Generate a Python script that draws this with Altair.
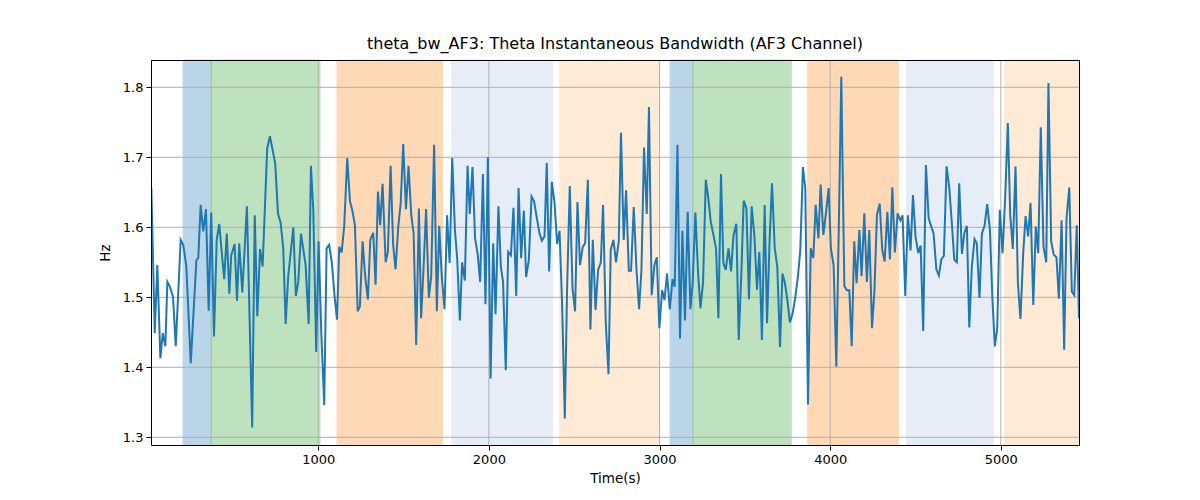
import altair as alt
import pandas as pd

TITLE = "theta_bw_AF3: Theta Instantaneous Bandwidth (AF3 Channel)"

time_s = [22, 42, 57, 75, 89, 104, 116, 131, 149, 165, 194, 209, 227, 253, 286, 297, 311, 326, 342, 358,
          373, 389, 405, 420, 436, 449, 464, 479, 490, 510, 524, 537, 555, 582, 613, 628, 643, 659, 674,
          701, 717, 733, 748, 764, 780, 795, 809, 824, 854, 869, 883, 899, 926, 944, 957, 971, 988, 1002,
          1018, 1035, 1049, 1064, 1080, 1096, 1110, 1123, 1137, 1152, 1170, 1186, 1199, 1215, 1231, 1244,
          1260, 1275, 1291, 1305, 1322, 1336, 1350, 1363, 1377, 1395, 1408, 1424, 1439, 1453, 1469, 1483,
          1498, 1514, 1529, 1545, 1559, 1574, 1590, 1603, 1619, 1632, 1648, 1662, 1679, 1695, 1709, 1724,
          1740, 1755, 1770, 1785, 1801, 1814, 1830, 1843, 1859, 1875, 1888, 1904, 1919, 1934, 1949, 1965,
          1980, 1994, 2010, 2025, 2039, 2056, 2070, 2083, 2099, 2113, 2129, 2144, 2160, 2174, 2189, 2205,
          2218, 2234, 2250, 2265, 2281, 2297, 2310, 2326, 2339, 2353, 2369, 2385, 2400, 2414, 2429, 2445,
          2458, 2474, 2490, 2505, 2519, 2534, 2550, 2564, 2580, 2595, 2609, 2625, 2640, 2656, 2669, 2685,
          2701, 2714, 2730, 2745, 2761, 2774, 2790, 2804, 2820, 2833, 2849, 2865, 2880, 2894, 2909, 2925,
          2938, 2954, 2970, 2984, 2999, 3015, 3029, 3044, 3060, 3076, 3089, 3105, 3120, 3134, 3149, 3165,
          3181, 3194, 3210, 3226, 3240, 3255, 3271, 3286, 3300, 3316, 3331, 3345, 3360, 3374, 3388, 3404,
          3419, 3433, 3450, 3464, 3480, 3493, 3509, 3524, 3540, 3556, 3571, 3585, 3600, 3616, 3630, 3645,
          3659, 3675, 3690, 3706, 3720, 3735, 3749, 3764, 3780, 3796, 3811, 3825, 3840, 3854, 3870, 3886,
          3901, 3915, 3931, 3944, 3960, 3975, 3991, 4004, 4020, 4036, 4051, 4065, 4083, 4098, 4112, 4126,
          4141, 4155, 4171, 4184, 4200, 4215, 4229, 4245, 4259, 4274, 4290, 4305, 4319, 4335, 4350, 4364,
          4379, 4395, 4411, 4424, 4440, 4455, 4471, 4485, 4500, 4516, 4530, 4545, 4561, 4577, 4590, 4606,
          4622, 4637, 4651, 4666, 4682, 4698, 4713, 4727, 4742, 4756, 4772, 4786, 4801, 4815, 4830, 4846,
          4859, 4875, 4889, 4905, 4920, 4936, 4951, 4965, 4979, 4994, 5010, 5026, 5041, 5055, 5070, 5086,
          5100, 5115, 5131, 5145, 5160, 5174, 5190, 5205, 5219, 5234, 5250, 5266, 5279, 5295, 5310, 5326,
          5340, 5356, 5371, 5385, 5401, 5416, 5430, 5445, 5458]

bandwidth_hz = [1.656, 1.449, 1.546, 1.413, 1.449, 1.430, 1.522, 1.515, 1.501, 1.430, 1.582, 1.575, 1.544,
                1.406, 1.553, 1.556, 1.632, 1.594, 1.626, 1.481, 1.621, 1.444, 1.582, 1.605, 1.560, 1.526,
                1.591, 1.505, 1.560, 1.576, 1.495, 1.577, 1.507, 1.630, 1.314, 1.617, 1.473, 1.569, 1.544,
                1.713, 1.730, 1.710, 1.691, 1.620, 1.606, 1.570, 1.462, 1.530, 1.600, 1.502, 1.522, 1.591,
                1.546, 1.462, 1.688, 1.625, 1.422, 1.580, 1.449, 1.346, 1.570, 1.575, 1.549, 1.501, 1.468,
                1.572, 1.564, 1.601, 1.699, 1.637, 1.625, 1.603, 1.480, 1.487, 1.580, 1.530, 1.497, 1.582,
                1.592, 1.518, 1.651, 1.603, 1.662, 1.550, 1.565, 1.688, 1.575, 1.540, 1.601, 1.634, 1.719,
                1.626, 1.688, 1.618, 1.591, 1.432, 1.627, 1.470, 1.552, 1.626, 1.499, 1.530, 1.718, 1.480,
                1.602, 1.530, 1.483, 1.617, 1.549, 1.699, 1.596, 1.556, 1.467, 1.550, 1.524, 1.688, 1.619,
                1.686, 1.584, 1.562, 1.522, 1.676, 1.490, 1.700, 1.384, 1.577, 1.476, 1.630, 1.544, 1.522,
                1.396, 1.565, 1.560, 1.628, 1.502, 1.656, 1.556, 1.624, 1.529, 1.553, 1.644, 1.637, 1.613,
                1.591, 1.581, 1.587, 1.692, 1.537, 1.665, 1.634, 1.576, 1.595, 1.491, 1.327, 1.510, 1.659,
                1.513, 1.480, 1.636, 1.546, 1.572, 1.577, 1.668, 1.454, 1.582, 1.482, 1.539, 1.550, 1.632,
                1.463, 1.390, 1.568, 1.582, 1.550, 1.580, 1.735, 1.582, 1.653, 1.538, 1.538, 1.629, 1.539,
                1.483, 1.539, 1.714, 1.619, 1.772, 1.503, 1.546, 1.557, 1.456, 1.510, 1.496, 1.534, 1.483,
                1.526, 1.515, 1.718, 1.441, 1.595, 1.467, 1.622, 1.483, 1.520, 1.621, 1.534, 1.484, 1.522,
                1.668, 1.641, 1.608, 1.589, 1.570, 1.470, 1.676, 1.549, 1.539, 1.570, 1.537, 1.588, 1.605,
                1.439, 1.539, 1.638, 1.627, 1.497, 1.630, 1.587, 1.511, 1.565, 1.439, 1.632, 1.463, 1.582,
                1.663, 1.570, 1.544, 1.429, 1.534, 1.520, 1.496, 1.464, 1.477, 1.501, 1.530, 1.568, 1.686,
                1.656, 1.347, 1.570, 1.556, 1.632, 1.584, 1.661, 1.589, 1.620, 1.656, 1.570, 1.546, 1.401,
                1.608, 1.815, 1.516, 1.510, 1.510, 1.430, 1.580, 1.520, 1.596, 1.530, 1.620, 1.522, 1.596,
                1.456, 1.508, 1.618, 1.634, 1.568, 1.551, 1.622, 1.554, 1.657, 1.564, 1.620, 1.610, 1.617,
                1.502, 1.617, 1.567, 1.646, 1.587, 1.563, 1.574, 1.452, 1.689, 1.613, 1.603, 1.591, 1.540,
                1.531, 1.554, 1.559, 1.687, 1.656, 1.605, 1.554, 1.550, 1.663, 1.562, 1.592, 1.602, 1.457,
                1.544, 1.583, 1.577, 1.499, 1.591, 1.603, 1.633, 1.596, 1.496, 1.430, 1.456, 1.625, 1.563,
                1.646, 1.749, 1.617, 1.569, 1.687, 1.520, 1.469, 1.563, 1.616, 1.587, 1.635, 1.489, 1.601,
                1.563, 1.743, 1.572, 1.550, 1.806, 1.580, 1.561, 1.557, 1.498, 1.610, 1.425, 1.613, 1.657,
                1.508, 1.503, 1.603, 1.470]

band_start = [208, 373, 1110, 1783, 2415, 3062, 3196, 3868, 4448, 5022]
band_end = [373, 1010, 1728, 2373, 2997, 3196, 3772, 4399, 4957, 5458]
band_color = ["#1f77b4", "#2ca02c", "#ff7f0e", "#aec7e8", "#ffbb78",
              "#1f77b4", "#2ca02c", "#ff7f0e", "#aec7e8", "#ffbb78"]

x_ticks = [1000, 2000, 3000, 4000, 5000]
y_ticks = [1.3, 1.4, 1.5, 1.6, 1.7, 1.8]
x_domain = [20, 5458]
y_domain = [1.289, 1.839]

FONT = "DejaVu Sans"

line_df = pd.DataFrame({"t": time_s, "hz": bandwidth_hz})
band_df = pd.DataFrame({"start": band_start, "end": band_end, "color": band_color})
xgrid_df = pd.DataFrame({"t": x_ticks})
ygrid_df = pd.DataFrame({"hz": y_ticks})

xscale = alt.Scale(domain=x_domain, nice=False, zero=False)
yscale = alt.Scale(domain=y_domain, nice=False, zero=False)

common = dict(labelFont=FONT, titleFont=FONT, labelFontSize=13, titleFontSize=13.5,
              titleFontWeight="normal", labelColor="black", titleColor="black",
              tickColor="black", domainColor="black", domainWidth=1, tickSize=5,
              labelPadding=3, grid=False, zindex=1)

x_axis = alt.Axis(title="Time(s)", values=x_ticks, format="d", titlePadding=5, **common)
y_axis = alt.Axis(title="Hz", values=y_ticks, format=".1f", titlePadding=10, **common)
x_top = alt.Axis(orient="top", title=None, labels=False, ticks=False, domain=True,
                 domainColor="black", domainWidth=1, grid=False, zindex=1)
y_right = alt.Axis(orient="right", title=None, labels=False, ticks=False, domain=True,
                   domainColor="black", domainWidth=1, grid=False, zindex=1)

bands = alt.Chart(band_df).mark_rect(opacity=0.3, strokeWidth=1).encode(
    x=alt.X("start:Q", scale=xscale, axis=x_axis),
    x2="end:Q",
    y=alt.value(0),
    y2=alt.value(385),
    fill=alt.Fill("color:N", scale=None),
    stroke=alt.Stroke("color:N", scale=None),
)

xgrid = alt.Chart(xgrid_df).mark_rule(color="#b0b0b0", strokeWidth=1).encode(
    x=alt.X("t:Q", scale=xscale, axis=x_top),
)
ygrid = alt.Chart(ygrid_df).mark_rule(color="#b0b0b0", strokeWidth=1).encode(
    y=alt.Y("hz:Q", scale=yscale, axis=y_axis),
)

line = alt.Chart(line_df).mark_line(color="#1f77b4", strokeWidth=2, clip=True).encode(
    x=alt.X("t:Q", scale=xscale, axis=None),
    y=alt.Y("hz:Q", scale=yscale, axis=y_right),
)

chart = alt.layer(bands, xgrid, ygrid, line).resolve_axis(
    x="independent", y="independent"
).properties(
    width=928,
    height=385,
    title=alt.TitleParams(TITLE, font=FONT, fontSize=16, fontWeight="normal",
                          color="black", anchor="middle", offset=8),
    autosize=alt.AutoSizeParams(type="none"),
    padding={"left": 143, "top": 52, "right": 100, "bottom": 40},
).configure_view(stroke="black", strokeWidth=1).configure(background="white")

chart.save("out.html", embed_options={"renderer": "svg", "actions": False})
